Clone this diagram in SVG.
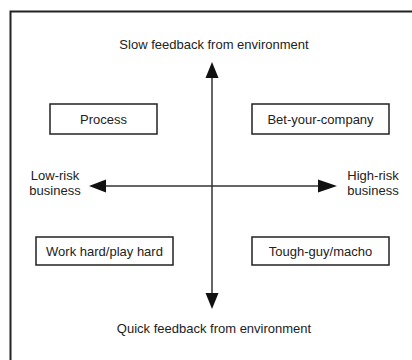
<svg xmlns="http://www.w3.org/2000/svg" width="412" height="360" viewBox="0 0 412 360">
<style>
text{font-family:"Liberation Sans",Arial,sans-serif;font-size:13px;fill:#222}
.box{fill:#fff;stroke:#222;stroke-width:1.5}
.ax{stroke:#333;stroke-width:1.5;fill:none}
.hd{fill:#111}
</style>
<rect width="412" height="360" fill="#fff"/>
<path d="M10.5,414 V11.5 H420" fill="none" stroke="#222" stroke-width="2"/>
<g id="connectors">
<line class="ax" x1="212" y1="76" x2="212" y2="295"/>
<polygon class="hd" points="212,62 205.5,78 218.5,78"/>
<polygon class="hd" points="212,309 205.5,293 218.5,293"/>
<line class="ax" x1="104" y1="186" x2="320" y2="186"/>
<polygon class="hd" points="89,186 106,179.5 106,192.5"/>
<polygon class="hd" points="337,186 318,179.5 318,192.5"/>
</g>
<g id="top-label"><text x="214" y="49" text-anchor="middle">Slow feedback from environment</text></g>
<g id="bottom-label"><text x="214" y="333" text-anchor="middle">Quick feedback from environment</text></g>
<g id="left-label"><text x="55" y="180" text-anchor="middle">Low-risk</text><text x="55" y="194.5" text-anchor="middle">business</text></g>
<g id="right-label"><text x="373" y="180" text-anchor="middle">High-risk</text><text x="373" y="194.5" text-anchor="middle">business</text></g>
<g id="process"><rect class="box" x="50" y="104" width="107" height="30"/><text x="103.5" y="123.5" text-anchor="middle">Process</text></g>
<g id="bet"><rect class="box" x="252" y="104" width="137" height="30"/><text x="320.5" y="123.5" text-anchor="middle">Bet-your-company</text></g>
<g id="work"><rect class="box" x="36" y="237" width="137" height="28"/><text x="104.5" y="255.5" text-anchor="middle">Work hard/play hard</text></g>
<g id="tough"><rect class="box" x="252" y="237" width="137" height="28"/><text x="320.5" y="255.5" text-anchor="middle">Tough-guy/macho</text></g>
</svg>
